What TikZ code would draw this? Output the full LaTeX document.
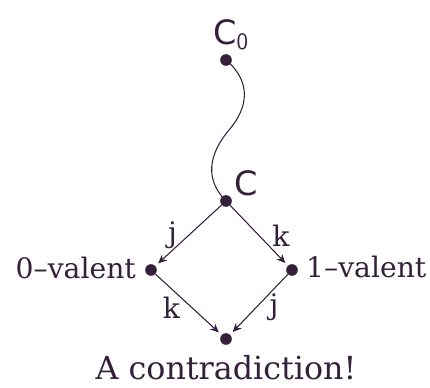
\documentclass[tikz,border=0pt]{standalone}
\usepackage{fontspec}
\setmainfont{DejaVu Serif}
\newfontfamily\labelsans{DejaVu Sans}
\usetikzlibrary{arrows.meta}
\definecolor{ink}{RGB}{52,32,58}

\begin{document}
\begin{tikzpicture}[x=0.567pt, y=-0.567pt, >={Stealth[length=5pt,width=4.5pt]}, ink,
  state/.style={circle, fill=ink, inner sep=0pt, minimum size=6.6pt},
  move/.style={->, line width=0.6pt, shorten >=2pt},
  txt/.style={font=\fontsize{16}{18}\selectfont},
  lbl/.style={font=\fontsize{16}{18}\selectfont}]
  \useasboundingbox (0,0) rectangle (430,388);
  % states
  \node[state] (c0) at (226,60) {};
  \node[state] (c) at (226,201) {};
  \node[state] (zero) at (151,270) {};
  \node[state] (one) at (292,270) {};
  \node[state] (bot) at (226,339) {};
  % labels of the states
  \node[font=\labelsans\fontsize{19}{21}\selectfont] (c0lbl) at (231,35) {C$_{\mathsf{0}}$};
  \node[font=\labelsans\fontsize{19}{21}\selectfont] (clbl) at (246,183) {C};
  \node[txt, anchor=east] (zerolbl) at (142,268) {0--valent};
  \node[txt, anchor=west] (onelbl) at (300,267) {1--valent};
  \node[txt, font=\fontsize{18}{20}\selectfont, anchor=base] (contra) at (226,380) {A contradiction!};
  % wavy run from C0 to C
  \draw[line width=0.6pt] (c0.center) .. controls (252,82) and (248,108) .. (229,130)
    .. controls (208,155) and (205,180) .. (c.center);
  % the four steps
  \draw[move] (c) -- node[lbl, pos=0.5, left=3pt] {j} (zero);
  \draw[move] (c) -- node[lbl, pos=0.5, right=4pt] {k} (one);
  \draw[move] (zero) -- node[lbl, pos=0.55, left=3pt] {k} (bot);
  \draw[move] (one) -- node[lbl, pos=0.55, right=4pt] {j} (bot);
\end{tikzpicture}
\end{document}
